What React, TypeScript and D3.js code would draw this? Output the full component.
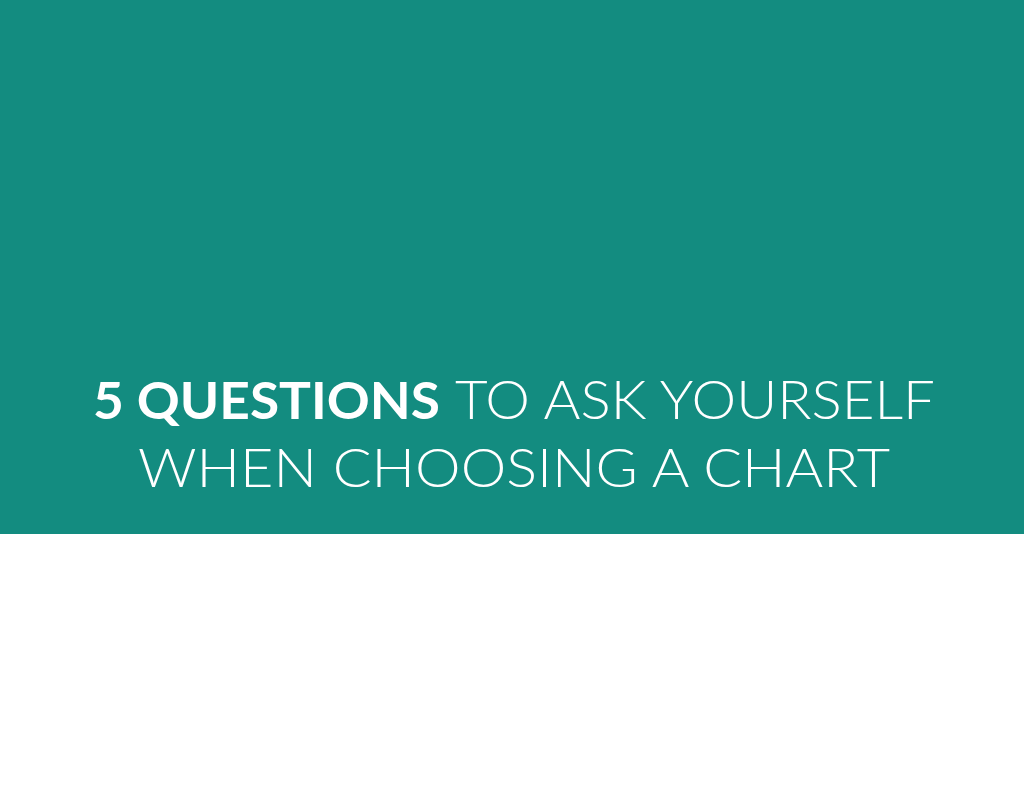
import React from "react";
import * as d3 from "d3";

const W = 1024;
const H = 791;
const bannerColor = "#138c80";
const bannerBottom = 534;

const line1Bold = "5 QUESTIONS";
const line1Light = "TO ASK YOURSELF";
const line2 = "WHEN CHOOSING A CHART";

export default function App() {
  const y = d3.scaleLinear().domain([0, 1]).range([0, H]);
  const font = "Lato, 'Open Sans', sans-serif";
  return (
    <svg
      width={W}
      height={H}
      style={{ position: "absolute", left: 0, top: 0, display: "block" }}
    >
      <rect x={0} y={0} width={W} height={H} fill="#ffffff" />
      <rect x={0} y={y(0)} width={W} height={bannerBottom} fill={bannerColor} />
      <text
        x={93}
        y={419}
        fill="#ffffff"
        fontFamily={font}
        fontSize={52}
        fontWeight={700}
        textLength={347}
        lengthAdjust="spacingAndGlyphs"
      >
        {line1Bold}
      </text>
      <text
        x={455}
        y={419}
        fill="#ffffff"
        fontFamily={font}
        fontSize={53}
        fontWeight={300}
        textLength={480}
        lengthAdjust="spacingAndGlyphs"
      >
        {line1Light}
      </text>
      <text
        x={138}
        y={487}
        fill="#ffffff"
        fontFamily={font}
        fontSize={54}
        fontWeight={300}
        textLength={752}
        lengthAdjust="spacingAndGlyphs"
      >
        {line2}
      </text>
    </svg>
  );
}
